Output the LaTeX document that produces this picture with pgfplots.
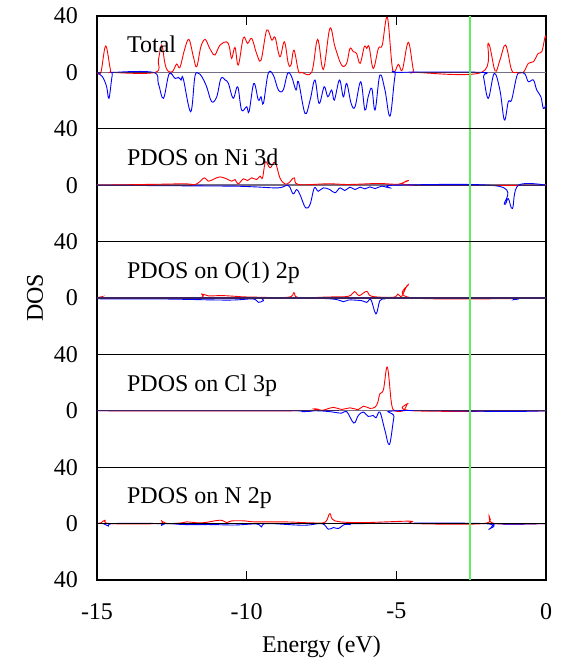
\documentclass[border=0pt]{standalone}
\usepackage{pgfplots}
\pgfplotsset{compat=1.18}
\usepgfplotslibrary{groupplots}
\usepackage{fontspec}
\setmainfont{Liberation Serif}
\definecolor{efline}{RGB}{100,235,100}
\definecolor{zline}{RGB}{120,110,130}
\definecolor{zdark}{RGB}{60,35,95}
\tikzset{
  zl/.style={zline, line width=1.4pt},
  ef/.style={efline, line width=2pt},
  up/.style={red, smooth, tension=0.6},
  dn/.style={blue, smooth, tension=0.6},
  lab/.style={anchor=base west, inner sep=0pt},
}
\begin{document}
\fontsize{24}{28}\selectfont
\begin{tikzpicture}[font=\fontsize{24}{28}\selectfont]
\begin{groupplot}[group style={group size=1 by 5, vertical sep=0pt},
  width=449pt, height=112.8pt, scale only axis,
  xmin=-15, xmax=0, ymin=-40, ymax=40,
  axis line style={line width=1.3pt},
  major tick length=9pt,
  tick style={line width=1.1pt, black},
  ytick={0,40}, yticklabels={0,40},
  yticklabel style={xshift=-11pt},
  xticklabel style={yshift=-15pt},
  xtick=\empty,
  every axis plot/.append style={line width=0.9pt},
]
% ---------------- Total
\nextgroupplot[xtick={-15,-10,-5,0}, xtick pos=right, xticklabels={}]
\addplot[zl] coordinates {(-15,0) (0,0)};
\addplot[up] coordinates {
(-15,0) (-14.87,0) (-14.71,18.7) (-14.55,2) (-14.45,0) (-13.06,0) (-12.95,8.7) (-12.84,19.4) (-12.73,6.4) (-12.64,1.2) (-12.48,0.5) (-12.34,5.9) (-12.23,3.5) (-12.08,15.8) (-11.93,23.4) (-11.78,11.1) (-11.67,4) (-11.53,18.2) (-11.39,23.4) (-11.26,18.2) (-11.17,14.7) (-11.06,12.3) (-10.89,19.4) (-10.67,21.7) (-10.58,18.2) (-10.50,9.9) (-10.39,17.7) (-10.28,5.2) (-10.11,24.6) (-9.97,20.6) (-9.83,24.1) (-9.67,13.5) (-9.52,8.7) (-9.33,30.0) (-9.16,22.9) (-9.05,24.8) (-8.89,11.1) (-8.74,21.7) (-8.61,6.4) (-8.52,5.2) (-8.42,15.8) (-8.27,1) (-8.16,0) (-7.83,0) (-7.63,23.4) (-7.44,2.1) (-7.22,31.2) (-7.05,18.2) (-6.83,5.2) (-6.66,6.4) (-6.55,17.0) (-6.44,14.7) (-6.33,13.5) (-6.21,6.4) (-6.07,18.2) (-5.99,17.0) (-5.91,18.2) (-5.77,2.8) (-5.60,17.0) (-5.47,19.4) (-5.30,39.0) (-5.12,1.7) (-4.93,5.7) (-4.80,1.7) (-4.60,21.3) (-4.43,1.7) (-4.32,0) (-2.15,0) (-1.93,20.6) (-1.70,1) (-1.54,8.7) (-1.35,19.4) (-1.15,1.7) (-0.98,0) (-0.76,0) (-0.59,6.4) (-0.42,7.6) (-0.26,13.5) (-0.14,14.7) (-0.03,25.3) (0,24)};
\addplot[dn] coordinates {
(-15,0) (-14.82,-3) (-14.68,-10) (-14.60,-18.4) (-14.49,-2) (-14.40,0) (-13.12,0) (-12.95,-8) (-12.78,-18.4) (-12.59,-1) (-12.39,-4.3) (-12.28,-3.5) (-12.19,-5.4) (-12.12,-4.3) (-11.87,-27.9) (-11.73,-3) (-11.61,-0.7) (-11.50,-3) (-11.34,-10) (-11.17,-20.8) (-11.00,-17.3) (-10.86,-4.3) (-10.72,-5.4) (-10.61,-7.8) (-10.45,-18.4) (-10.30,-10.2) (-10.17,-26.7) (-10.00,-24.4) (-9.92,-27.9) (-9.76,-7.8) (-9.61,-19.6) (-9.52,-17.3) (-9.44,-22) (-9.28,-0.7) (-9.11,-1.9) (-8.94,-12.5) (-8.78,-12.5) (-8.63,-0.7) (-8.50,-3) (-8.35,-12.5) (-8.27,-6.6) (-8.05,-29.1) (-7.88,-19.6) (-7.72,-5.4) (-7.58,-22) (-7.41,-10.2) (-7.29,-17.3) (-7.16,-12.5) (-7.07,-19.6) (-6.90,-5.4) (-6.77,-17.3) (-6.66,-7.8) (-6.51,-22) (-6.38,-24.4) (-6.19,-6.6) (-6.05,-26.7) (-5.94,-17.3) (-5.82,-11.3) (-5.71,-26.7) (-5.55,-1.9) (-5.38,-12.5) (-5.21,-31.0) (-5.04,-1.9) (-4.91,0) (-2.17,0) (-2.09,-3) (-1.93,-18.4) (-1.73,-0.7) (-1.54,-12.5) (-1.39,-33.8) (-1.26,-20.8) (-1.15,-19.6) (-0.98,-3) (-0.87,0) (-0.70,-1.2) (-0.59,-6.6) (-0.42,-5.4) (-0.31,-12.5) (-0.17,-17.3) (-0.09,-25.5) (0,-23)};
\addplot[zdark, line width=1.2pt] coordinates {(-15,0) (-14.88,0)};
\addplot[zdark, line width=1.2pt] coordinates {(-14.42,0) (-13.09,0)};
\addplot[zdark, line width=1.2pt] coordinates {(-4.35,0) (-2.16,0)};
\addplot[zdark, line width=1.2pt] coordinates {(-0.95,0) (-0.74,0)};
\addplot[ef] coordinates {(-2.55,-40) (-2.55,40)};
\node[lab] at (axis cs:-14,14) {Total};
% ---------------- Ni 3d
\nextgroupplot
\addplot[zl] coordinates {(-15,0) (0,0)};
\addplot[up] coordinates {
(-15,0) (-12.84,0.7) (-12.06,1) (-11.73,0.3) (-11.61,1.7) (-11.41,5.2) (-11.28,2.8) (-11.08,4.5) (-10.89,5.9) (-10.67,4.5) (-10.50,2.8) (-10.39,4) (-10.28,1) (-10.11,4.5) (-9.97,3.3) (-9.83,5.2) (-9.67,4) (-9.55,6.4) (-9.47,5.2) (-9.37,16.5) (-9.22,12.3) (-9.05,16.3) (-8.89,5.2) (-8.72,0.9) (-8.59,1.7) (-8.41,5.2) (-8.27,0.5) (-7.27,1) (-6.60,0.5) (-5.60,1.2) (-4.93,0.7) (-4.60,3.3) (-4.43,0) (0,0)};
\addplot[dn] coordinates {
(-15,0) (-11.73,-0.5) (-10.39,-0.7) (-9.72,-1.2) (-8.94,-1.9) (-8.61,-0.2) (-8.45,-6.1) (-8.33,-3.1) (-8.22,-6.6) (-8.03,-16.1) (-7.88,-13.5) (-7.74,-1.9) (-7.61,-4.3) (-7.44,-1.9) (-7.22,-3.1) (-7.05,-5.4) (-6.88,-1.9) (-6.72,-3.8) (-6.55,-1.4) (-6.38,-3.1) (-6.21,-1.4) (-6.05,-2.6) (-5.88,-1.2) (-5.71,-2.4) (-5.49,-0.7) (-5.21,-1.9) (-5.04,0) (-1.59,-0.7) (-1.39,-13.5) (-1.26,-9.5) (-1.12,-16.5) (-0.92,0) (0,0)};
\addplot[zdark, line width=1.2pt] coordinates {(-15,0) (-11.8,0)};
\addplot[zdark, line width=1.2pt] coordinates {(-4.4,0) (-1.6,0)};
\addplot[zdark, line width=1.2pt] coordinates {(-0.9,0) (0,0)};
\addplot[ef] coordinates {(-2.55,-40) (-2.55,40)};
\node[lab] at (axis cs:-14,14) {PDOS on Ni 3d};
% ---------------- O(1) 2p
\nextgroupplot[ylabel={DOS}, ylabel style={at={(axis description cs:-0.138,0.5)}, anchor=center}]
\addplot[zl] coordinates {(-15,0) (0,0)};
\addplot[up] coordinates {
(-15,0) (-14.84,0.9) (-14.62,0) (-11.73,0) (-11.50,2.8) (-11.28,1.5) (-10.84,1.7) (-10.39,1.2) (-9.94,0.7) (-8.63,0.5) (-8.42,3.8) (-8.27,0.3) (-7.27,0.7) (-6.60,1.2) (-6.40,4.5) (-6.24,1.7) (-5.99,4.7) (-5.82,1.2) (-5.10,0.5) (-4.95,2.8) (-4.82,1.2) (-4.60,9.5) (-4.43,0) (0,0)};
\addplot[dn] coordinates {
(-15,0) (-14.73,-0.7) (-12.84,-0.7) (-11.06,-1.4) (-10.39,-1.4) (-9.78,-0.7) (-9.61,-3.1) (-9.44,-1.9) (-9.28,0) (-7.27,-0.5) (-6.77,-2.6) (-6.60,-1.4) (-6.16,-1.9) (-5.99,-3.1) (-5.85,-1.2) (-5.68,-11.3) (-5.55,-1.9) (-5.38,-0.7) (-5.16,0) (-1.26,-0.3) (-1.09,-1.2) (-0.92,0) (0,0)};
\addplot[zdark, line width=1.2pt] coordinates {(-15,0) (0,0)};
\addplot[ef] coordinates {(-2.55,-40) (-2.55,40)};
\node[lab] at (axis cs:-14,14) {PDOS on O(1) 2p};
% ---------------- Cl 3p
\nextgroupplot
\addplot[zl] coordinates {(-15,0) (0,0)};
\addplot[up] coordinates {
(-15,0) (-8.39,0) (-7.72,1.4) (-7.49,0.3) (-7.10,2.4) (-6.83,0.9) (-6.55,2.1) (-6.27,0.9) (-6.10,3.3) (-5.88,1.7) (-5.71,2.6) (-5.62,6) (-5.55,12) (-5.43,15) (-5.30,31.0) (-5.16,5) (-5.04,0) (-4.76,0.2) (-4.60,5.4) (-4.43,0) (0,0)};
\addplot[dn] coordinates {
(-15,0) (-8.39,0) (-8.16,-0.7) (-7.72,0) (-7.27,-0.5) (-6.83,-1.7) (-6.66,-0.5) (-6.42,-8.7) (-6.27,-3.3) (-6.10,-0.9) (-5.94,-4) (-5.77,-3.3) (-5.68,-5) (-5.55,-0.9) (-5.38,-14) (-5.23,-23.9) (-5.08,-4.5) (-4.99,0) (-1.37,-0.5) (0,0)};
\addplot[zdark, line width=1.2pt] coordinates {(-15,0) (-6.9,0)};
\addplot[zdark, line width=1.2pt] coordinates {(-4.4,0) (0,0)};
\addplot[ef] coordinates {(-2.55,-40) (-2.55,40)};
\node[lab] at (axis cs:-14,14) {PDOS on Cl 3p};
% ---------------- N 2p
\nextgroupplot[ytick={-40,0,40}, yticklabels={40,0,40},
  xtick={-15,-10,-5,0}, xtick pos=left, xticklabels={-15,-10,-5,0},
  xlabel={Energy (eV)}, xlabel style={at={(axis description cs:0.5,-0.647)}, anchor=base}]
\addplot[zl] coordinates {(-15,0) (0,0)};
\addplot[up] coordinates {
(-15,0) (-14.87,0.5) (-14.73,2.4) (-14.57,0) (-12.95,0) (-12.84,1.9) (-12.67,0) (-12.17,0.5) (-12.00,1.2) (-11.50,0.5) (-10.89,2.4) (-10.67,0.7) (-10.50,1.9) (-10.06,1.9) (-9.72,1.2) (-8.72,1.2) (-7.83,0.5) (-7.38,1) (-7.22,7.1) (-7.05,1.9) (-6.16,0.7) (-4.54,1.7) (-4.43,0) (-2.09,0) (-1.90,5.4) (-1.70,0) (0,0)};
\addplot[dn] coordinates {
(-15,0) (-14.79,0) (-14.62,-1.7) (-14.45,0) (-12.95,0) (-12.84,-1.2) (-12.67,0) (-12.06,-0.7) (-11.17,-0.7) (-10.39,-1) (-9.67,-0.3) (-9.50,-2.4) (-9.33,0) (-8.10,-1.2) (-7.49,0) (-7.27,-4.0) (-7.10,-2.8) (-6.94,-3.5) (-6.72,-0.5) (-6.55,-0.7) (-6.16,0) (-2.09,0) (-1.90,-4.0) (-1.70,0) (-1.26,-0.5) (0,0)};
\addplot[black, line width=1.2pt] coordinates {(-15,0) (0,0)};
\addplot[ef] coordinates {(-2.55,-40) (-2.55,40)};
\node[lab] at (axis cs:-14,14) {PDOS on N 2p};
\end{groupplot}
\pgfresetboundingbox
\path (group c1r1.north west) ++(-97pt,16pt) rectangle ++(560pt,-658pt);
\end{tikzpicture}
\end{document}
